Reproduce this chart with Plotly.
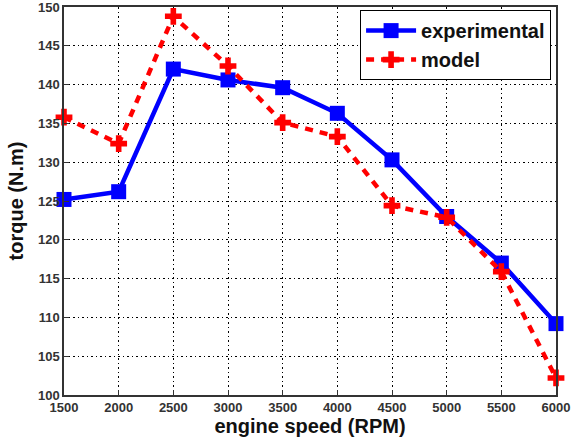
import plotly.graph_objects as go

rpm = [1500, 2000, 2500, 3000, 3500, 4000, 4500, 5000, 5500, 6000]
experimental = [125.2, 126.2, 142.0, 140.6, 139.6, 136.3, 130.3, 123.0, 117.0, 109.2]
model = [135.8, 132.4, 148.8, 142.4, 135.1, 133.3, 124.4, 122.9, 115.9, 102.2]
x_ticks = [1500, 2000, 2500, 3000, 3500, 4000, 4500, 5000, 5500, 6000]
y_ticks = [100, 105, 110, 115, 120, 125, 130, 135, 140, 145, 150]

fig = go.Figure()
fig.add_trace(go.Scatter(
    x=rpm, y=experimental, name="experimental", mode="lines+markers",
    line=dict(color="#0000ff", width=4.5),
    marker=dict(symbol="square", size=15, color="#0000ff"),
    cliponaxis=False,
))
fig.add_trace(go.Scatter(
    x=rpm, y=model, name="model", mode="lines+markers",
    line=dict(color="#ff0000", width=4.5, dash="8px,7px"),
    marker=dict(symbol="cross", size=14, color="#ff0000"),
    cliponaxis=False,
))

axis_common = dict(
    showgrid=True, gridcolor="black", gridwidth=1, griddash="2px,3px,1px,3px",
    showline=True, linecolor="#333", linewidth=1.5, mirror=True,
    ticks="inside", ticklen=5, tickcolor="#333", zeroline=False,
    automargin=False, ticklabeloverflow="allow",
    tickfont=dict(family="Liberation Sans, Arial", size=13, color="#333", weight="bold"),
)
fig.update_xaxes(range=[1500, 6000], tickvals=x_ticks, **axis_common,
                 title=dict(text="<b>engine speed (RPM)</b>", standoff=0,
                            font=dict(family="Liberation Sans, Arial", size=20, color="#111")))
fig.update_yaxes(range=[100, 150], tickvals=y_ticks, **axis_common,
                 title=dict(text="<b>torque (N.m)</b>", standoff=9,
                            font=dict(family="Liberation Sans, Arial", size=20, color="#111")))

fig.update_layout(
    width=571, height=445,
    margin=dict(l=64, r=15, t=7, b=50),
    paper_bgcolor="white", plot_bgcolor="white",
    showlegend=True,
    legend=dict(x=0.99, y=0.992, xanchor="right", yanchor="top",
                bgcolor="white", bordercolor="black", borderwidth=1,
                font=dict(family="Liberation Sans, Arial", size=20, color="#111", weight="bold"),
                tracegroupgap=0, itemwidth=50),
)
fig.write_html(
    "out.html",
    config={"displayModeBar": False},
    post_script="document.body.style.margin='0';document.body.style.overflow='hidden';window.scrollTo(0,0);",
)
